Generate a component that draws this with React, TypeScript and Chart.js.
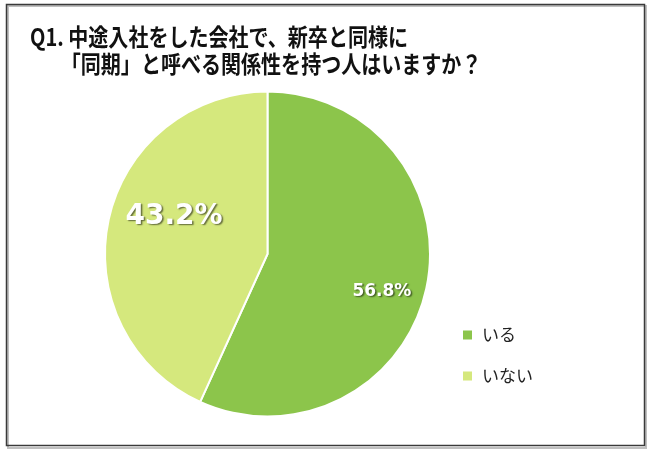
import { useEffect, useRef } from 'react';
import { Chart, registerables } from 'chart.js';

Chart.register(...registerables);

const titleLines = ['Q1. 中途入社をした会社で、新卒と同様に', '「同期」と呼べる関係性を持つ人はいますか？'];
const titlePrefix = 'Q1. ';
const categories = ['いる', 'いない'];
const values = [56.8, 43.2];
const percentLabels = ['56.8%', '43.2%'];
const colors = ['#8CC54B', '#D5E87D'];

const JP = '"Noto Sans CJK JP", "Noto Sans", sans-serif';

const framePlugin = {
  id: 'frame',
  beforeDraw(chart: any) {
    const ctx = chart.ctx;
    ctx.save();
    ctx.fillStyle = '#ffffff';
    ctx.fillRect(0, 0, chart.width, chart.height);
    ctx.strokeStyle = 'rgba(0,0,0,0.25)';
    ctx.lineWidth = 2;
    ctx.strokeRect(8, 6, 638, 442);
    ctx.strokeStyle = '#3a3a3a';
    ctx.lineWidth = 1.5;
    ctx.strokeRect(6.5, 4.5, 638, 441);
    ctx.restore();
  },
};

const titlePlugin = {
  id: 'customTitle',
  afterDraw(chart: any) {
    const ctx = chart.ctx;
    ctx.save();
    ctx.font = `bold 24px ${JP}`;
    ctx.fillStyle = '#111111';
    ctx.textBaseline = 'middle';
    ctx.textAlign = 'left';
    const w1 = ctx.measureText(titleLines[0]).width;
    const sx = 378 / w1;
    const indent = ctx.measureText(titlePrefix).width;
    ctx.translate(30, 0);
    ctx.scale(sx, 1);
    ctx.fillText(titleLines[0], 0, 37);
    ctx.fillText(titleLines[1], indent - 9, 64);
    ctx.restore();
  },
};

const labelFactors = [0.74, 0.62];
const labelShift = [0.1, 0.17];
const labelSizes = [17, 28];

const percentPlugin = {
  id: 'percentLabels',
  afterDatasetsDraw(chart: any) {
    const ctx = chart.ctx;
    const meta = chart.getDatasetMeta(0);
    ctx.save();
    meta.data.forEach((arc: any, i: number) => {
      const p = arc.getProps(['x', 'y', 'startAngle', 'endAngle', 'outerRadius'], true);
      const mid = (p.startAngle + p.endAngle) / 2 + labelShift[i];
      const r = p.outerRadius * labelFactors[i];
      const x = p.x + Math.cos(mid) * r;
      const y = p.y + Math.sin(mid) * r;
      ctx.font = `bold ${labelSizes[i]}px "DejaVu Sans", Verdana, sans-serif`;
      ctx.textAlign = 'center';
      ctx.textBaseline = 'middle';
      ctx.shadowColor = 'rgba(0,0,0,0.55)';
      ctx.shadowOffsetX = 1.5;
      ctx.shadowOffsetY = 1.5;
      ctx.shadowBlur = 1.5;
      ctx.fillStyle = '#ffffff';
      ctx.fillText(percentLabels[i], x, y);
    });
    ctx.restore();
  },
};

const legendPlugin = {
  id: 'customLegend',
  afterDraw(chart: any) {
    const ctx = chart.ctx;
    ctx.save();
    ctx.font = `17px ${JP}`;
    ctx.textBaseline = 'middle';
    ctx.textAlign = 'left';
    categories.forEach((c, i) => {
      const cy = 335 + i * 41;
      ctx.fillStyle = colors[i];
      ctx.fillRect(463, cy - 4.5, 9, 9);
      ctx.fillStyle = '#222222';
      ctx.fillText(c, 482, cy);
    });
    ctx.restore();
  },
};

export default function App() {
  const ref = useRef<HTMLCanvasElement | null>(null);
  useEffect(() => {
    if (!ref.current) return;
    const chart = new Chart(ref.current, {
      type: 'pie',
      data: {
        labels: categories,
        datasets: [
          {
            data: values,
            backgroundColor: colors,
            borderColor: '#ffffff',
            borderWidth: 2,
          },
        ],
      },
      options: {
        responsive: false,
        animation: false,
        devicePixelRatio: 1,
        layout: { padding: { left: 104, right: 219, top: 90, bottom: 35 } },
        plugins: {
          legend: { display: false },
          tooltip: { enabled: false },
          title: { display: false },
        },
      },
      plugins: [framePlugin, titlePlugin, percentPlugin, legendPlugin],
    });
    return () => chart.destroy();
  }, []);
  return (
    <div style={{ position: 'fixed', left: 0, top: 0, width: 650, height: 453, background: '#fff' }}>
      <canvas ref={ref} width={650} height={453} style={{ display: 'block' }} />
    </div>
  );
}
